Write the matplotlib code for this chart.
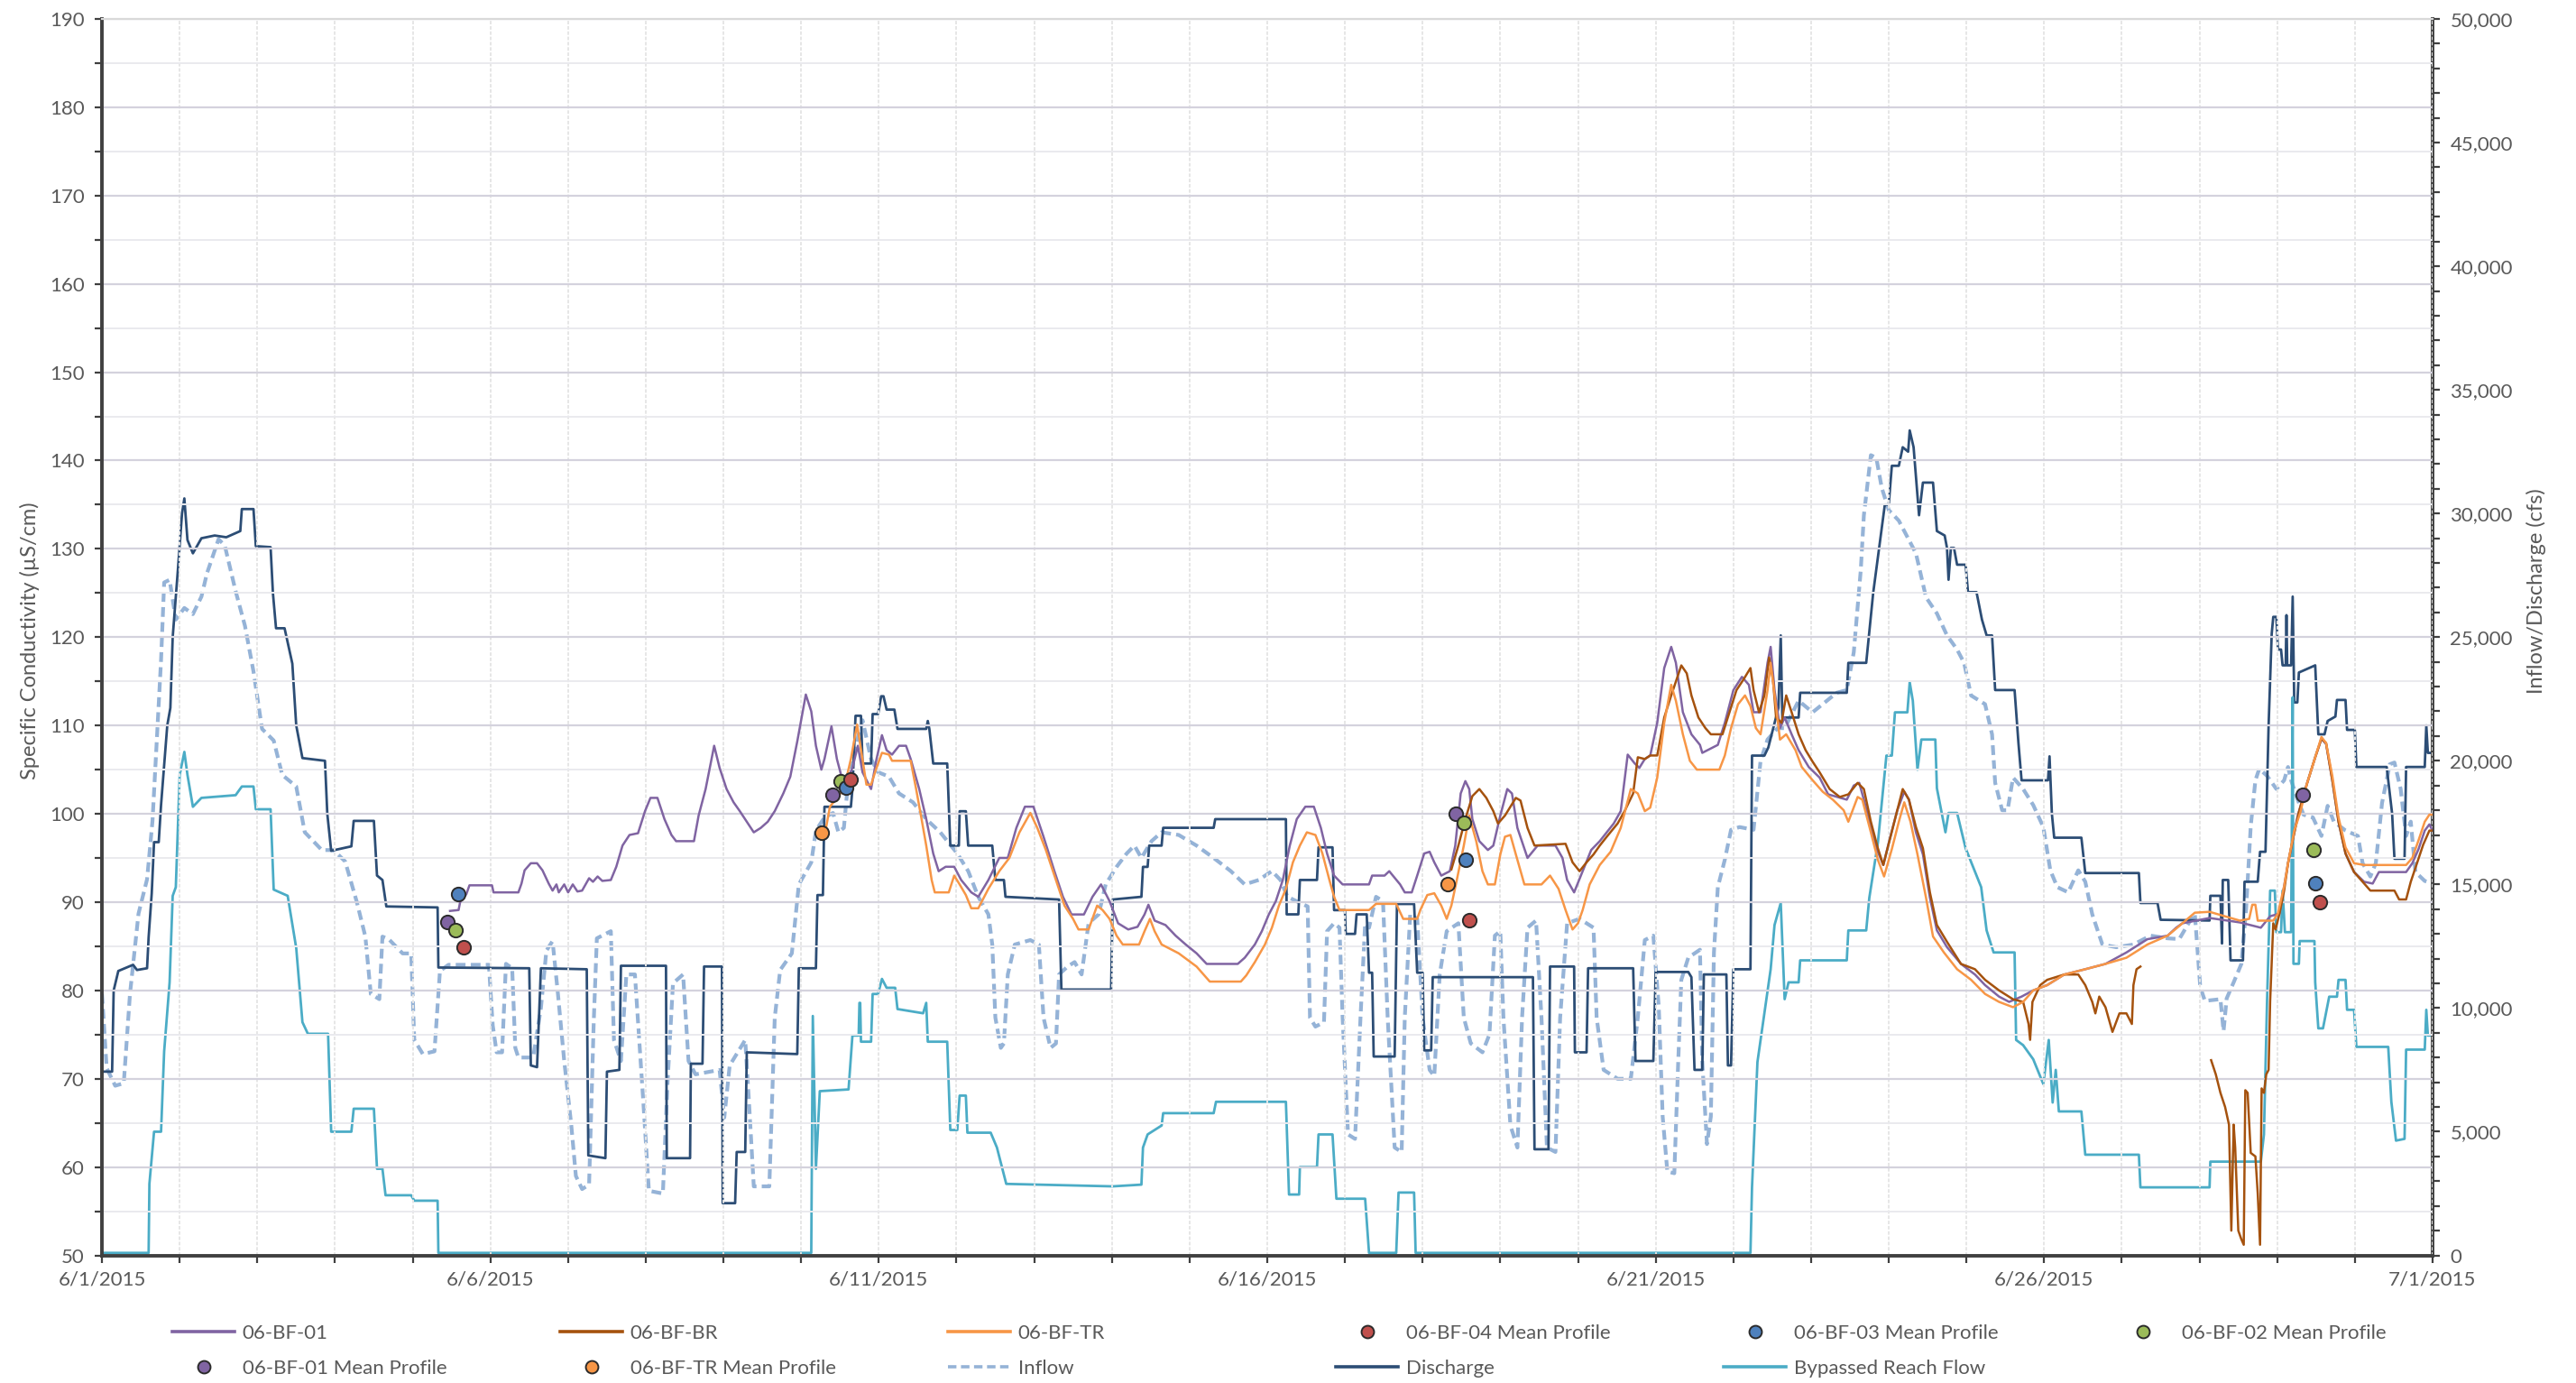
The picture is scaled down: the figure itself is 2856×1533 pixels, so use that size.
import numpy as np
import pandas as pd
import matplotlib
matplotlib.use("Agg")
import matplotlib.pyplot as plt
import matplotlib.dates as mdates
from matplotlib.ticker import MultipleLocator, FuncFormatter
from matplotlib.lines import Line2D

plt.rcParams['font.family'] = ['Lato', 'DejaVu Sans']

start = pd.Timestamp('2015-06-01')

# all series: (days after 6/1/2015, value)
# specific conductivity (uS/cm), left axis
bf01 = [(4.48, 89.0), (4.59, 89.1), (4.61, 90.0), (4.69, 90.9), (4.73, 91.9), (5.02, 91.9), (5.04, 91.1), (5.36, 91.1),
        (5.40, 92.1), (5.44, 93.6), (5.52, 94.4), (5.60, 94.4), (5.67, 93.6), (5.75, 92.1), (5.80, 91.3), (5.85, 92.0),
        (5.88, 91.1), (5.95, 92.0), (6.00, 91.1), (6.06, 92.0), (6.12, 91.2), (6.18, 91.3), (6.27, 92.7), (6.32, 92.3),
        (6.38, 92.9), (6.44, 92.4), (6.55, 92.5), (6.62, 94.0), (6.70, 96.4), (6.79, 97.6), (6.90, 97.8), (6.99, 100.3),
        (7.06, 101.8), (7.15, 101.8), (7.24, 99.4), (7.33, 97.6), (7.39, 96.9), (7.62, 96.9), (7.68, 99.8), (7.77, 102.8),
        (7.88, 107.7), (7.95, 105.2), (8.04, 102.8), (8.13, 101.3), (8.21, 100.3), (8.30, 99.1), (8.39, 97.9), (8.48, 98.4),
        (8.57, 99.1), (8.66, 100.3), (8.77, 102.3), (8.86, 104.2), (8.95, 108.2), (9.06, 113.5), (9.13, 111.6), (9.19, 107.7),
        (9.26, 105.0), (9.30, 106.2), (9.39, 109.9), (9.46, 106.2), (9.52, 104.2), (9.59, 103.7), (9.66, 105.2), (9.73, 107.7),
        (9.79, 104.7), (9.90, 102.8), (9.97, 106.2), (10.04, 108.9), (10.10, 107.2), (10.17, 106.7), (10.26, 107.7),
        (10.35, 107.7), (10.41, 106.2), (10.52, 102.8), (10.61, 99.4), (10.70, 95.5), (10.77, 93.5), (10.86, 94.0),
        (10.97, 94.0), (11.06, 92.5), (11.19, 91.1), (11.28, 90.6), (11.41, 92.5), (11.55, 95.0), (11.66, 95.0), (11.77, 98.4),
        (11.88, 100.8), (11.99, 100.8), (12.12, 97.4), (12.26, 93.5), (12.37, 90.6), (12.48, 88.6), (12.64, 88.6),
        (12.75, 90.6), (12.86, 92.0), (12.97, 90.1), (13.08, 87.6), (13.21, 86.9), (13.33, 87.2), (13.42, 88.6), (13.47, 89.7),
        (13.55, 87.9), (13.69, 87.4), (13.82, 86.2), (13.95, 85.2), (14.09, 84.2), (14.22, 83.0), (14.62, 83.0), (14.71, 83.7),
        (14.84, 85.2), (14.93, 86.7), (15.02, 88.6), (15.11, 90.1), (15.20, 92.5), (15.29, 96.4), (15.38, 99.4), (15.49, 100.8),
        (15.60, 100.8), (15.69, 98.4), (15.77, 95.5), (15.86, 93.0), (15.97, 92.0), (16.31, 92.0), (16.35, 93.0), (16.51, 93.0),
        (16.57, 93.5), (16.71, 92.0), (16.77, 91.1), (16.86, 91.1), (16.93, 93.0), (17.02, 95.5), (17.09, 95.7), (17.15, 94.5),
        (17.24, 93.0), (17.35, 93.5), (17.42, 96.4), (17.49, 102.3), (17.55, 103.7), (17.60, 102.8), (17.64, 99.4),
        (17.73, 96.9), (17.84, 95.9), (17.91, 96.4), (18.00, 99.8), (18.09, 102.8), (18.15, 102.3), (18.22, 98.4), (18.35, 95.0),
        (18.48, 96.4), (18.71, 96.4), (18.80, 95.0), (18.86, 92.5), (18.95, 91.1), (19.06, 93.5), (19.17, 95.9), (19.28, 96.9),
        (19.37, 97.9), (19.46, 98.9), (19.55, 100.3), (19.64, 106.7), (19.73, 105.7), (19.79, 105.2), (19.86, 106.2),
        (19.93, 106.6), (20.02, 110.3), (20.11, 116.5), (20.20, 118.9), (20.26, 117.1), (20.35, 111.5), (20.46, 109.0),
        (20.57, 107.8), (20.60, 106.9), (20.80, 107.8), (20.89, 110.3), (21.00, 114.0), (21.11, 115.5), (21.20, 114.6),
        (21.26, 111.5), (21.35, 111.5), (21.44, 117.1), (21.48, 118.9), (21.53, 114.0), (21.60, 109.7), (21.66, 110.9),
        (21.75, 109.0), (21.84, 107.2), (21.97, 105.3), (22.11, 104.1), (22.22, 102.2), (22.46, 101.6), (22.55, 103.2),
        (22.62, 103.5), (22.68, 101.6), (22.77, 98.5), (22.86, 95.7), (22.93, 94.2), (23.00, 96.7), (23.11, 100.4),
        (23.20, 102.5), (23.26, 101.6), (23.35, 97.9), (23.44, 95.4), (23.53, 90.5), (23.62, 86.8), (23.75, 84.9),
        (23.93, 83.0), (24.11, 81.8), (24.24, 80.6), (24.42, 79.3), (24.55, 78.7), (24.71, 79.3), (24.86, 80.0), (25.04, 80.6),
        (25.26, 81.8), (25.53, 82.4), (25.79, 83.0), (26.06, 84.3), (26.33, 85.8), (26.59, 86.2), (26.70, 87.1), (26.78, 87.6),
        (27.13, 88.2), (27.52, 87.7), (27.79, 87.1), (27.91, 88.4), (28.03, 88.7), (28.14, 94.4), (28.26, 99.6), (28.38, 103.3),
        (28.49, 106.4), (28.57, 108.5), (28.63, 107.9), (28.71, 103.8), (28.79, 99.1), (28.88, 95.5), (28.99, 93.4),
        (29.12, 92.3), (29.23, 92.1), (29.31, 93.4), (29.66, 93.4), (29.74, 94.4), (29.82, 96.0), (29.90, 98.1), (29.96, 98.8),
        (30.00, 98.1)]

bf_tr = [(9.32, 98.4), (9.37, 100.8), (9.46, 101.8), (9.55, 102.8), (9.64, 106.2), (9.72, 110.1), (9.77, 107.3), (9.84, 103.3),
         (9.90, 103.3), (9.97, 105.2), (10.04, 106.9), (10.13, 106.7), (10.17, 106.0), (10.41, 106.0), (10.48, 102.8),
         (10.55, 99.4), (10.61, 96.4), (10.68, 92.5), (10.72, 91.1), (10.90, 91.1), (10.97, 93.0), (11.04, 92.0), (11.12, 90.8),
         (11.19, 89.3), (11.28, 89.3), (11.41, 91.5), (11.55, 93.5), (11.68, 95.0), (11.81, 97.9), (11.95, 100.1), (12.04, 98.4),
         (12.15, 95.9), (12.26, 93.0), (12.39, 89.6), (12.50, 88.1), (12.57, 86.9), (12.70, 86.9), (12.81, 89.6), (12.88, 89.1),
         (12.97, 88.1), (13.06, 86.2), (13.14, 85.2), (13.35, 85.2), (13.42, 86.7), (13.49, 88.1), (13.55, 86.7), (13.64, 85.2),
         (13.86, 84.2), (14.09, 82.7), (14.26, 81.0), (14.66, 81.0), (14.73, 81.7), (14.84, 83.2), (14.97, 85.2), (15.06, 87.1),
         (15.15, 89.6), (15.24, 91.5), (15.33, 94.5), (15.42, 96.4), (15.51, 97.9), (15.62, 97.6), (15.71, 95.5), (15.80, 92.5),
         (15.86, 90.6), (15.93, 89.1), (16.31, 89.1), (16.40, 89.8), (16.66, 89.8), (16.75, 88.1), (16.93, 88.1), (16.97, 89.1),
         (17.06, 90.8), (17.15, 91.0), (17.24, 89.6), (17.31, 88.1), (17.37, 89.6), (17.44, 92.5), (17.53, 96.4), (17.60, 99.8),
         (17.69, 96.9), (17.77, 93.5), (17.84, 92.0), (17.93, 92.0), (18.00, 95.4), (18.06, 97.4), (18.13, 97.6), (18.20, 95.4),
         (18.31, 92.0), (18.53, 92.0), (18.64, 93.0), (18.75, 91.5), (18.84, 89.1), (18.93, 86.9), (19.00, 87.6), (19.06, 89.1),
         (19.15, 92.0), (19.28, 94.2), (19.42, 95.7), (19.55, 98.4), (19.68, 102.8), (19.77, 102.3), (19.86, 100.3),
         (19.93, 100.7), (20.02, 104.1), (20.11, 110.3), (20.20, 114.6), (20.26, 112.8), (20.35, 109.0), (20.44, 106.0),
         (20.53, 105.0), (20.82, 105.0), (20.89, 106.6), (20.97, 109.7), (21.06, 112.4), (21.15, 113.4), (21.22, 112.2),
         (21.29, 109.7), (21.35, 109.0), (21.44, 114.0), (21.48, 117.1), (21.54, 112.8), (21.60, 108.4), (21.68, 109.0),
         (21.80, 107.2), (21.88, 105.3), (22.02, 103.8), (22.15, 102.5), (22.28, 101.6), (22.42, 100.4), (22.48, 99.1),
         (22.60, 101.9), (22.66, 101.6), (22.77, 97.9), (22.86, 94.8), (22.94, 92.9), (23.04, 96.0), (23.13, 99.1),
         (23.20, 101.3), (23.28, 99.1), (23.37, 95.4), (23.48, 90.5), (23.57, 86.1), (23.71, 84.3), (23.88, 82.4),
         (24.06, 81.2), (24.24, 79.6), (24.42, 78.7), (24.60, 78.1), (24.73, 78.7), (24.86, 80.0), (25.04, 80.6), (25.26, 81.8),
         (25.53, 82.4), (25.79, 83.0), (26.06, 83.7), (26.33, 85.2), (26.59, 86.2), (26.70, 87.0), (26.94, 88.8), (27.13, 88.9),
         (27.52, 87.9), (27.64, 88.1), (27.68, 89.7), (27.72, 89.7), (27.75, 87.9), (27.95, 87.9), (28.01, 88.7), (28.09, 91.8),
         (28.14, 94.4), (28.22, 98.1), (28.30, 100.2), (28.38, 103.3), (28.49, 106.4), (28.57, 108.7), (28.63, 108.0),
         (28.71, 104.3), (28.79, 99.6), (28.88, 96.2), (28.99, 94.4), (29.12, 94.2), (29.66, 94.2), (29.74, 95.0),
         (29.82, 97.0), (29.90, 99.1), (29.96, 99.9), (30.00, 99.9)]

bf_br_a = [(17.37, 93.7), (17.46, 96.4), (17.55, 99.4), (17.64, 102.0), (17.73, 102.8), (17.82, 101.8), (17.91, 100.3),
           (17.97, 98.9), (18.06, 99.8), (18.13, 100.8), (18.20, 101.8), (18.26, 101.5), (18.35, 98.4), (18.44, 96.4),
           (18.84, 96.6), (18.93, 94.5), (19.02, 93.5), (19.11, 94.5), (19.20, 95.4), (19.28, 96.4), (19.37, 97.4),
           (19.51, 98.9), (19.60, 100.3), (19.71, 102.3), (19.77, 106.4), (19.86, 106.2), (19.93, 106.6), (20.02, 106.6),
           (20.11, 110.9), (20.20, 113.4), (20.33, 116.8), (20.40, 115.9), (20.46, 113.4), (20.55, 110.9), (20.64, 109.7),
           (20.71, 109.0), (20.86, 109.0), (20.95, 111.5), (21.04, 114.0), (21.13, 115.2), (21.22, 116.5), (21.26, 114.0),
           (21.33, 111.5), (21.40, 113.4), (21.46, 117.7), (21.51, 115.2), (21.55, 110.9), (21.62, 110.3), (21.68, 113.4),
           (21.75, 111.5), (21.84, 109.0), (21.93, 107.2), (22.02, 105.9), (22.11, 104.7), (22.24, 102.8), (22.37, 101.9),
           (22.48, 102.2), (22.60, 103.5), (22.68, 102.8), (22.77, 99.1), (22.86, 96.1), (22.93, 94.2), (23.02, 97.3),
           (23.11, 100.4), (23.18, 102.8), (23.26, 101.6), (23.35, 98.5), (23.44, 96.1), (23.53, 91.1), (23.62, 87.4),
           (23.75, 85.5), (23.93, 83.0), (24.11, 82.4), (24.24, 81.2), (24.42, 80.0), (24.60, 79.0), (24.73, 78.7),
           (24.80, 76.2), (24.82, 74.4), (24.85, 78.7), (24.95, 80.6), (25.04, 81.2), (25.26, 81.8), (25.44, 81.8),
           (25.53, 80.6), (25.62, 78.7), (25.66, 77.4), (25.71, 79.3), (25.79, 78.1), (25.88, 75.3), (25.97, 77.4),
           (26.06, 77.4), (26.13, 76.2), (26.15, 80.6), (26.19, 82.4), (26.24, 82.7)]

bf_br_b = [(27.15, 72.1), (27.21, 70.5), (27.27, 68.4), (27.33, 66.8), (27.38, 64.8), (27.41, 52.8), (27.44, 64.8),
           (27.46, 62.2), (27.50, 52.8), (27.54, 51.8), (27.57, 51.2), (27.59, 68.7), (27.62, 68.4), (27.66, 61.6),
           (27.72, 61.2), (27.75, 57.0), (27.78, 51.2), (27.80, 68.9), (27.83, 68.4), (27.86, 70.5), (27.89, 71.0),
           (27.91, 78.8), (27.95, 87.6), (27.98, 86.9), (28.03, 88.7), (28.09, 91.3), (28.14, 94.4), (28.20, 97.0),
           (28.28, 100.2), (28.38, 103.3), (28.49, 106.4), (28.57, 108.5), (28.63, 108.0), (28.71, 103.8), (28.79, 99.1),
           (28.88, 95.5), (28.99, 93.4), (29.12, 92.1), (29.20, 91.3), (29.51, 91.3), (29.57, 90.3), (29.66, 90.3),
           (29.72, 92.3), (29.80, 94.4), (29.88, 96.5), (29.96, 98.1), (30.00, 98.1)]

# mean profile points
mp04 = [(4.66, 84.9), (9.64, 103.9), (17.60, 87.9), (28.55, 90.0)]
mp03 = [(4.59, 90.9), (9.58, 103.0), (17.55, 94.8), (28.49, 92.1)]
mp02 = [(4.55, 86.8), (9.51, 103.7), (17.53, 99.0), (28.47, 95.9)]
mp01 = [(4.44, 87.7), (9.40, 102.1), (17.43, 100.0), (28.33, 102.1)]
mptr = [(9.27, 97.9), (17.32, 92.0)]

# flows (cfs), right axis
inflow = [(0.00, 10570), (0.06, 7570), (0.17, 6860), (0.28, 6960), (0.36, 10570), (0.47, 13820), (0.58, 15210),
          (0.65, 17570), (0.76, 24070), (0.80, 27210), (0.87, 27320), (0.95, 25710), (1.06, 26180), (1.17, 25930),
          (1.28, 26640), (1.35, 27570), (1.50, 28960), (1.58, 28710), (1.72, 26860), (1.84, 25460), (1.95, 23610),
          (2.06, 21290), (2.21, 20820), (2.32, 19430), (2.50, 18960), (2.61, 17110), (2.83, 16390), (2.98, 16390),
          (3.13, 15930), (3.28, 14290), (3.39, 12890), (3.46, 10570), (3.57, 10360), (3.61, 12890), (3.69, 12790),
          (3.87, 12210), (3.98, 12210), (4.02, 8710), (4.13, 8140), (4.28, 8250), (4.35, 11500), (4.46, 11750),
          (4.98, 11750), (5.03, 9290), (5.08, 8210), (5.15, 8210), (5.20, 11790), (5.28, 11610), (5.32, 8390),
          (5.36, 8000), (5.55, 8000), (5.65, 10000), (5.72, 12320), (5.80, 12710), (5.87, 10540), (5.95, 7860),
          (6.04, 5290), (6.10, 3210), (6.18, 2680), (6.27, 2860), (6.33, 9460), (6.37, 12820), (6.55, 13110),
          (6.59, 8710), (6.68, 7860), (6.75, 11360), (6.86, 11360), (6.97, 6110), (7.04, 2610), (7.22, 2500),
          (7.28, 7000), (7.35, 11000), (7.48, 11360), (7.55, 7860), (7.64, 7320), (7.95, 7500), (8.01, 5570),
          (8.08, 7680), (8.28, 8710), (8.33, 6110), (8.39, 2790), (8.59, 2790), (8.66, 9610), (8.73, 11540),
          (8.88, 12210), (8.97, 15000), (9.13, 15890), (9.19, 17180), (9.30, 17710), (9.41, 17890), (9.48, 17110),
          (9.55, 17290), (9.61, 19360), (9.70, 20610), (9.79, 21640), (9.90, 20070), (9.99, 19540), (10.13, 19360),
          (10.26, 18680), (10.44, 18320), (10.61, 17640), (10.79, 17110), (11.01, 16250), (11.15, 15540),
          (11.28, 14500), (11.41, 13790), (11.46, 12570), (11.50, 9610), (11.57, 8390), (11.61, 8570), (11.66, 11360),
          (11.75, 12570), (11.95, 12750), (12.06, 12570), (12.12, 9610), (12.21, 8390), (12.28, 8570), (12.32, 11360),
          (12.43, 11680), (12.52, 11860), (12.61, 11360), (12.70, 13430), (12.83, 13790), (12.92, 15000),
          (13.06, 15710), (13.19, 16250), (13.29, 16570), (13.38, 16070), (13.51, 16750), (13.64, 17110),
          (13.86, 17000), (14.09, 16570), (14.31, 16070), (14.53, 15540), (14.71, 15000), (14.89, 15180),
          (15.06, 15540), (15.17, 15180), (15.26, 14500), (15.45, 14210), (15.52, 14110), (15.55, 9610), (15.62, 9250),
          (15.73, 9430), (15.77, 13110), (15.86, 13430), (15.93, 13250), (15.97, 9610), (16.04, 4890), (16.13, 4710),
          (16.20, 9610), (16.26, 13430), (16.31, 13250), (16.40, 14500), (16.49, 14320), (16.55, 9610), (16.64, 4360),
          (16.73, 4180), (16.77, 9610), (16.84, 13790), (16.93, 13610), (17.00, 9610), (17.09, 7500), (17.15, 7250),
          (17.22, 11360), (17.31, 13110), (17.46, 13430), (17.53, 9610), (17.62, 8570), (17.77, 8210), (17.86, 8930),
          (17.93, 12930), (18.00, 13110), (18.04, 9610), (18.13, 5250), (18.22, 4360), (18.28, 9610), (18.35, 13250),
          (18.46, 13540), (18.53, 9610), (18.60, 4360), (18.71, 4180), (18.77, 9610), (18.86, 13430), (19.02, 13610),
          (19.20, 13250), (19.24, 9610), (19.33, 7500), (19.51, 7140), (19.68, 7140), (19.77, 9610), (19.86, 12750),
          (19.97, 12930), (20.04, 10040), (20.09, 5610), (20.15, 3390), (20.24, 3320), (20.29, 7820), (20.33, 11140),
          (20.42, 12040), (20.57, 12360), (20.60, 7820), (20.66, 4500), (20.71, 5610), (20.75, 12250), (20.80, 14890),
          (20.89, 16000), (20.97, 17210), (21.08, 17320), (21.26, 17210), (21.35, 20000), (21.44, 20860),
          (21.57, 21320), (21.66, 21320), (21.84, 22430), (22.02, 21960), (22.15, 22290), (22.33, 22750),
          (22.46, 22860), (22.55, 24390), (22.64, 27710), (22.68, 29930), (22.77, 32360), (22.84, 32250),
          (22.91, 31040), (23.00, 30140), (23.13, 29710), (23.35, 28390), (23.48, 26610), (23.62, 25960),
          (23.75, 25070), (23.88, 24500), (23.97, 23960), (24.06, 22640), (24.24, 22290), (24.33, 21070),
          (24.37, 19110), (24.46, 18000), (24.53, 18000), (24.60, 19320), (24.73, 18860), (24.86, 18210),
          (24.99, 17320), (25.08, 15570), (25.17, 14890), (25.31, 14680), (25.44, 15570), (25.53, 15110),
          (25.62, 13790), (25.75, 12570), (25.93, 12460), (26.15, 12570), (26.37, 12930), (26.59, 12820),
          (26.74, 12790), (26.86, 13430), (26.94, 13820), (26.98, 12140), (27.01, 10860), (27.07, 10290),
          (27.27, 10360), (27.31, 9070), (27.35, 10390), (27.44, 11040), (27.54, 11790), (27.60, 14000),
          (27.66, 17360), (27.72, 19210), (27.77, 19680), (27.87, 19390), (27.99, 18860), (28.09, 19210),
          (28.14, 19750), (28.18, 19210), (28.26, 18460), (28.34, 17820), (28.46, 17710), (28.57, 16960),
          (28.65, 18180), (28.73, 17540), (28.88, 17180), (29.04, 16960), (29.10, 15860), (29.20, 15320),
          (29.27, 15860), (29.35, 18290), (29.45, 19860), (29.51, 19930), (29.59, 18860), (29.66, 16960),
          (29.72, 17540), (29.78, 15500), (29.90, 15140), (30.00, 15040)]

discharge = [(0.00, 7430), (0.13, 7430), (0.15, 10710), (0.21, 11500), (0.40, 11750), (0.45, 11540), (0.58, 11610),
             (0.60, 12860), (0.64, 14640), (0.67, 16710), (0.73, 16710), (0.76, 18210), (0.84, 21430), (0.88, 22140),
             (0.91, 25000), (0.98, 27860), (1.03, 30000), (1.06, 30610), (1.10, 28930), (1.17, 28390), (1.28, 29000),
             (1.45, 29110), (1.60, 29040), (1.78, 29290), (1.80, 30180), (1.95, 30180), (1.98, 28680), (2.17, 28640),
             (2.20, 26790), (2.24, 25360), (2.35, 25360), (2.45, 23930), (2.50, 21430), (2.58, 20110), (2.87, 20000),
             (2.90, 17860), (2.95, 16360), (3.21, 16540), (3.24, 17570), (3.50, 17570), (3.54, 15360), (3.61, 15180),
             (3.66, 14110), (4.32, 14070), (4.33, 11640), (5.50, 11610), (5.52, 7680), (5.60, 7610), (5.65, 11610),
             (6.24, 11570), (6.26, 4040), (6.48, 3930), (6.50, 7430), (6.66, 7500), (6.68, 11710), (7.26, 11710),
             (7.27, 3930), (7.57, 3930), (7.58, 7750), (7.73, 7750), (7.75, 11680), (7.98, 11680), (7.99, 2110),
             (8.15, 2110), (8.17, 4180), (8.28, 4180), (8.30, 8210), (8.95, 8140), (8.97, 11610), (9.19, 11610),
             (9.21, 14570), (9.28, 14570), (9.30, 18140), (9.64, 18140), (9.66, 18860), (9.70, 21820), (9.77, 21820),
             (9.79, 19890), (9.90, 19890), (9.92, 21890), (9.99, 21890), (10.03, 22610), (10.06, 22610), (10.10, 22070),
             (10.20, 22070), (10.24, 21290), (10.61, 21290), (10.63, 21610), (10.65, 21290), (10.70, 19890),
             (10.88, 19890), (10.92, 16570), (11.03, 16570), (11.04, 17960), (11.12, 17960), (11.15, 16570),
             (11.46, 16570), (11.50, 15180), (11.61, 15180), (11.63, 14500), (12.32, 14390), (12.35, 10750),
             (12.99, 10750), (13.01, 14390), (13.38, 14500), (13.40, 15710), (13.46, 15710), (13.48, 16570),
             (13.64, 16570), (13.66, 17290), (14.31, 17290), (14.33, 17640), (15.24, 17640), (15.25, 13790),
             (15.40, 13790), (15.42, 15180), (15.64, 15180), (15.66, 16500), (15.84, 16500), (15.86, 13960),
             (16.00, 13960), (16.01, 13000), (16.13, 13000), (16.15, 13790), (16.28, 13790), (16.31, 11430),
             (16.35, 11430), (16.37, 8040), (16.64, 8040), (16.67, 14210), (16.89, 14210), (16.93, 11430),
             (17.00, 11430), (17.02, 8290), (17.11, 8290), (17.13, 11250), (18.42, 11250), (18.44, 4290),
             (18.62, 4290), (18.64, 11680), (18.95, 11680), (18.96, 8210), (19.11, 8210), (19.13, 11610),
             (19.71, 11610), (19.74, 7860), (19.97, 7860), (20.00, 11460), (20.42, 11460), (20.46, 11250),
             (20.50, 7500), (20.60, 7500), (20.62, 11360), (20.91, 11360), (20.93, 7680), (20.97, 7680),
             (21.00, 11570), (21.22, 11570), (21.24, 20210), (21.40, 20210), (21.45, 20540), (21.58, 22140),
             (21.61, 25070), (21.63, 21750), (21.84, 21750), (21.86, 22750), (22.46, 22750), (22.48, 23960),
             (22.71, 23960), (22.80, 26790), (22.95, 30360), (23.00, 30360), (23.04, 31930), (23.13, 31930),
             (23.18, 32680), (23.25, 32500), (23.27, 33360), (23.32, 32680), (23.39, 29930), (23.44, 31250),
             (23.57, 31250), (23.62, 29290), (23.72, 29110), (23.75, 28610), (23.77, 27320), (23.80, 28610),
             (23.84, 28610), (23.88, 27930), (23.99, 27930), (24.02, 26820), (24.13, 26820), (24.20, 25710),
             (24.26, 25070), (24.33, 25070), (24.37, 22860), (24.62, 22860), (24.67, 20710), (24.71, 19210),
             (25.05, 19210), (25.07, 20180), (25.10, 17860), (25.13, 16890), (25.48, 16890), (25.53, 15460),
             (26.22, 15460), (26.24, 14250), (26.46, 14250), (26.50, 13570), (27.13, 13540), (27.14, 14540),
             (27.27, 14540), (27.29, 12610), (27.30, 15180), (27.37, 15180), (27.40, 11930), (27.56, 11930),
             (27.58, 15110), (27.75, 15110), (27.78, 16320), (27.85, 16320), (27.89, 21430), (27.93, 25140),
             (27.95, 25820), (27.99, 25820), (28.01, 24500), (28.05, 24500), (28.07, 23860), (28.11, 23860),
             (28.12, 25890), (28.13, 23860), (28.18, 23860), (28.20, 26640), (28.22, 22360), (28.26, 22360),
             (28.28, 23570), (28.49, 23860), (28.53, 21070), (28.61, 21070), (28.65, 21610), (28.75, 21790),
             (28.77, 22460), (28.88, 22460), (28.90, 21250), (29.00, 21250), (29.02, 19750), (29.41, 19750),
             (29.48, 17860), (29.51, 16040), (29.64, 16040), (29.66, 19750), (29.90, 19750), (29.92, 21430),
             (29.94, 20320), (30.00, 20320)]

bypass = [(0.00, 100), (0.60, 100), (0.61, 2890), (0.67, 5000), (0.76, 5000), (0.80, 8250), (0.87, 11040), (0.91, 14540),
          (0.95, 14890), (1.00, 19430), (1.06, 20360), (1.10, 19430), (1.17, 18140), (1.28, 18500), (1.72, 18610),
          (1.80, 18960), (1.95, 18960), (1.98, 18040), (2.17, 18040), (2.21, 14790), (2.39, 14540), (2.50, 12430),
          (2.58, 9430), (2.65, 8960), (2.91, 8960), (2.95, 5000), (3.21, 5000), (3.24, 5930), (3.50, 5930), (3.54, 3500),
          (3.61, 3500), (3.65, 2430), (3.98, 2430), (4.02, 2210), (4.32, 2210), (4.33, 100), (9.13, 100), (9.15, 9680),
          (9.19, 3500), (9.24, 6640), (9.61, 6710), (9.66, 8890), (9.74, 8890), (9.75, 10210), (9.76, 10210),
          (9.77, 8640), (9.90, 8640), (9.92, 10570), (9.99, 10570), (10.04, 11180), (10.10, 10820), (10.21, 10820),
          (10.24, 9960), (10.57, 9790), (10.61, 10210), (10.63, 8640), (10.88, 8640), (10.92, 5070), (11.01, 5070),
          (11.04, 6460), (11.12, 6460), (11.14, 4960), (11.44, 4960), (11.52, 4360), (11.64, 2890), (13.01, 2790),
          (13.38, 2860), (13.40, 4360), (13.46, 4890), (13.64, 5250), (13.66, 5750), (14.31, 5750), (14.34, 6210),
          (15.24, 6210), (15.28, 2460), (15.41, 2460), (15.42, 3570), (15.64, 3570), (15.66, 4890), (15.84, 4890),
          (15.89, 2290), (16.26, 2290), (16.31, 100), (16.66, 100), (16.69, 2540), (16.89, 2540), (16.91, 100),
          (21.22, 100), (21.24, 2750), (21.31, 7820), (21.37, 9140), (21.48, 11570), (21.53, 13360), (21.61, 14250),
          (21.66, 10360), (21.71, 11040), (21.84, 11040), (21.86, 11930), (22.46, 11930), (22.48, 13140),
          (22.71, 13140), (22.75, 14460), (22.86, 16680), (22.97, 20210), (23.04, 20210), (23.08, 21960),
          (23.24, 21960), (23.27, 23180), (23.31, 22430), (23.37, 19640), (23.42, 20860), (23.60, 20860),
          (23.62, 18890), (23.73, 17110), (23.77, 17890), (23.88, 17890), (23.99, 16460), (24.19, 14890),
          (24.26, 13140), (24.35, 12250), (24.62, 12250), (24.64, 8710), (24.73, 8500), (24.86, 7930), (24.99, 6930),
          (25.06, 8710), (25.11, 6180), (25.15, 7500), (25.19, 5820), (25.48, 5820), (25.53, 4070), (26.22, 4070),
          (26.24, 2750), (27.13, 2750), (27.14, 3790), (27.79, 3790), (27.83, 4890), (27.87, 10290), (27.91, 14750),
          (27.97, 14750), (27.99, 13070), (28.05, 13070), (28.07, 14750), (28.10, 13070), (28.18, 13070),
          (28.20, 22570), (28.21, 11790), (28.28, 11790), (28.29, 12710), (28.48, 12710), (28.49, 11040),
          (28.53, 9180), (28.59, 9180), (28.67, 10460), (28.77, 10460), (28.79, 11140), (28.88, 11140),
          (28.90, 9930), (28.99, 9930), (29.02, 8430), (29.43, 8430), (29.47, 6210), (29.53, 4640), (29.64, 4710),
          (29.66, 8320), (29.90, 8320), (29.92, 9930), (29.94, 8890), (30.00, 8890)]


def xy(pairs):
    d = np.array([p[0] for p in pairs])
    v = np.array([p[1] for p in pairs])
    return start + pd.to_timedelta(d, unit='D'), v


c_01 = '#8064A2'
c_br = '#A5520E'
c_tr = '#F79646'
c_in = '#95B3D7'
c_dis = '#2C4D75'
c_by = '#4BACC6'
tick_col = '#595959'

fig = plt.figure(figsize=(14.28, 7.665), dpi=200)
ax = fig.add_axes([0.0396, 0.0923, 0.9047, 0.894])
ax2 = ax.twinx()
ax.set_zorder(ax2.get_zorder() + 1)
ax.patch.set_visible(False)

# flows on the right axis
ax2.plot(*xy(inflow), color=c_in, lw=1.5, dashes=(2.6, 1.4))
ax2.plot(*xy(discharge), color=c_dis, lw=1.0)
ax2.plot(*xy(bypass), color=c_by, lw=1.0)

# conductivity on the left axis
ax.plot(*xy(bf01), color=c_01, lw=0.9)
ax.plot(*xy(bf_br_a), color=c_br, lw=0.9)
ax.plot(*xy(bf_br_b), color=c_br, lw=0.9)
ax.plot(*xy(bf_tr), color=c_tr, lw=0.9)

mk = dict(marker='o', ls='none', ms=5.5, mec='#2b2b2b', mew=0.7)
ax.plot(*xy(mptr), mfc=c_tr, **mk)
ax.plot(*xy(mp01), mfc=c_01, **mk)
ax.plot(*xy(mp02), mfc='#9BBB59', **mk)
ax.plot(*xy(mp03), mfc='#4F81BD', **mk)
ax.plot(*xy(mp04), mfc='#C0504D', **mk)

ax.set_xlim(start, start + pd.Timedelta(days=30))
ax.set_ylim(50, 190)
ax2.set_ylim(0, 50000)

ax.xaxis.set_major_locator(mdates.DayLocator(bymonthday=[1, 6, 11, 16, 21, 26]))
ax.xaxis.set_minor_locator(mdates.DayLocator())
ax.xaxis.set_major_formatter(FuncFormatter(
    lambda v, p: f"{mdates.num2date(v).month}/{mdates.num2date(v).day}/{mdates.num2date(v).year}"))
ax.yaxis.set_major_locator(MultipleLocator(10))
ax.yaxis.set_minor_locator(MultipleLocator(5))
ax2.yaxis.set_major_locator(MultipleLocator(5000))
ax2.yaxis.set_minor_locator(MultipleLocator(1000))
ax2.yaxis.set_major_formatter(FuncFormatter(lambda v, p: f"{int(v):,}"))

ax.grid(True, which='major', axis='y', color='#D4D2DD', lw=0.8)
ax.grid(True, which='minor', axis='y', color='#EAEAEE', lw=0.7)
ax.grid(True, which='both', axis='x', color='#E6E6E6', lw=0.7, ls=(0, (2, 1)))

for a in (ax, ax2):
    a.tick_params(which='both', direction='out', length=3, width=0.8, color='#404040',
                  labelsize=8, labelcolor=tick_col, pad=4)
ax.tick_params(axis='x', which='major', pad=3)

for s in ('left', 'bottom'):
    ax.spines[s].set_color('#404040')
    ax.spines[s].set_linewidth(1.4)
ax.spines['right'].set_visible(False)
ax.spines['top'].set_color('#D9D9D9')
ax.spines['top'].set_linewidth(0.8)
for s in ('left', 'bottom', 'top'):
    ax2.spines[s].set_visible(False)
ax2.spines['right'].set_color('#404040')
ax2.spines['right'].set_linewidth(1.4)

ax.set_ylabel('Specific Conductivity (µS/cm)', fontsize=8.5, color=tick_col)
ax.yaxis.set_label_coords(-0.0268, 0.497)
ax2.set_ylabel('Inflow/Discharge (cfs)', fontsize=8.5, color=tick_col, rotation=90)
ax2.yaxis.set_label_coords(1.0402, 0.537)

# legend, six columns placed like the original
def line_h(c, **kw):
    return Line2D([], [], color=c, lw=1.3, **kw)


def dot_h(c):
    return Line2D([], [], marker='o', ls='none', ms=5, mfc=c, mec='#2b2b2b', mew=0.7)


columns = [
    ([line_h(c_01), dot_h(c_01)], ['06-BF-01', '06-BF-01 Mean Profile']),
    ([line_h(c_br), dot_h(c_tr)], ['06-BF-BR', '06-BF-TR Mean Profile']),
    ([line_h(c_tr), line_h(c_in, dashes=(2.6, 1.4))], ['06-BF-TR', 'Inflow']),
    ([dot_h('#C0504D'), line_h(c_dis)], ['06-BF-04 Mean Profile', 'Discharge']),
    ([dot_h('#4F81BD'), line_h(c_by)], ['06-BF-03 Mean Profile', 'Bypassed Reach Flow']),
    ([dot_h('#9BBB59')], ['06-BF-02 Mean Profile']),
]
for i, (hs, ls) in enumerate(columns):
    fig.legend(hs, ls, loc='upper left', bbox_to_anchor=(0.0669 + i * 0.15056, 0.0425),
               frameon=False, fontsize=8, labelcolor=tick_col, handlelength=3.1,
               handletextpad=0.4, labelspacing=0.85, borderpad=0, borderaxespad=0)

fig.savefig('out.png', dpi=200)
